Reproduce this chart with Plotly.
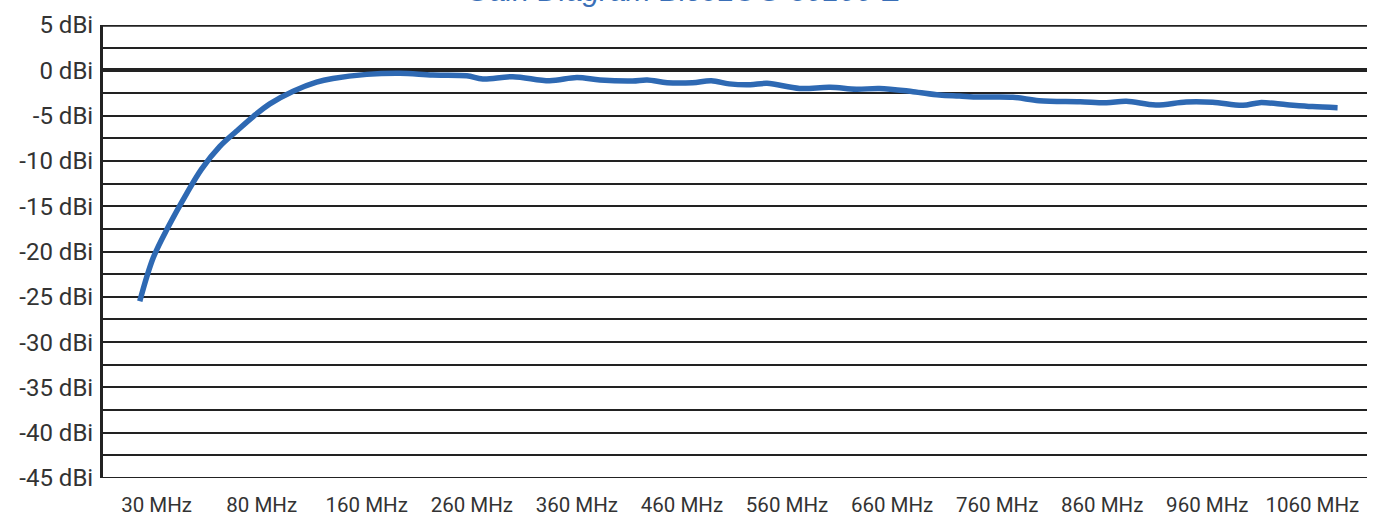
import numpy as np
import plotly.graph_objects as go

# Frequency axis labels (equally spaced on the chart)
tick_freqs = [30, 80, 160, 260, 360, 460, 560, 660, 760, 860, 960, 1060]
tick_text = [f"{f} MHz" for f in tick_freqs]

# Measured antenna gain
freq_mhz = [22, 28.4, 35.5, 44.3, 51.4, 60.1, 68.1, 76, 86.2, 104, 121.8, 134.2,
            160, 191.5, 222.9, 255.2, 270.5, 299, 334, 360, 382, 413, 427, 446,
            470, 488, 505, 525, 541, 572, 601, 626, 648, 680, 705, 724, 743, 775,
            800, 839, 864, 883, 911, 940, 965, 994, 1010, 1036, 1060, 1084]
gain_dbi = [-25.5, -20.7, -17.3, -13.6, -10.9, -8.4, -6.7, -5.1, -3.7, -2.3, -1.3, -0.9,
            -0.45, -0.33, -0.52, -0.6, -0.96, -0.7, -1.15, -0.8, -1.07, -1.18, -1.07, -1.37,
            -1.37, -1.15, -1.5, -1.6, -1.44, -2.0, -1.88, -2.1, -2.0, -2.36, -2.73, -2.84, -2.95, -2.98,
            -3.35, -3.46, -3.57, -3.42, -3.83, -3.5, -3.53, -3.87, -3.57, -3.8, -4.0, -4.13]

y_ticks = list(range(5, -50, -5))
y_text = [f"{v} dBi" for v in y_ticks]


def freq_to_slot(f):
    """Piecewise-linear position of a frequency between the equally spaced labels."""
    tf = np.asarray(tick_freqs, float)
    idx = np.arange(len(tf), dtype=float)
    f = np.asarray(f, float)
    pos = np.interp(f, tf, idx)
    lo = f < tf[0]
    pos[lo] = (f[lo] - tf[0]) / (tf[1] - tf[0])
    hi = f > tf[-1]
    pos[hi] = idx[-1] + (f[hi] - tf[-1]) / (tf[-1] - tf[-2])
    return pos


grid_col = "#222222"
text_col = "#333333"

fig = go.Figure()
fig.add_trace(go.Scatter(
    x=freq_to_slot(freq_mhz), y=gain_dbi, mode="lines",
    line=dict(color="#2e69b3", width=5.5, shape="spline", smoothing=1.0),
    hoverinfo="skip", showlegend=False,
))

fig.update_layout(
    width=1381, height=518,
    margin=dict(l=103, r=14, t=25, b=40),
    paper_bgcolor="white", plot_bgcolor="white",
    font=dict(family="Roboto", color=text_col),
    xaxis=dict(
        range=[-0.51, 11.52], tickmode="array",
        tickvals=list(range(len(tick_freqs))), ticktext=tick_text,
        showgrid=False, zeroline=False, showline=False, automargin=False,
        tickfont=dict(size=20.5, color=text_col), ticks="", ticklabelstandoff=12,
    ),
    yaxis=dict(
        range=[-45, 5], tickmode="array", tickvals=y_ticks, ticktext=y_text,
        showgrid=True, gridcolor=grid_col, gridwidth=2,
        minor=dict(dtick=2.5, showgrid=True, gridcolor=grid_col, gridwidth=2),
        zeroline=True, zerolinecolor=grid_col, zerolinewidth=3.5,
        showline=True, linecolor=grid_col, linewidth=3, automargin=False,
        tickfont=dict(size=24, color=text_col), ticks="", ticklabelstandoff=2,
    ),
    shapes=[
        dict(type="line", xref="paper", yref="y", x0=0, x1=1, y0=5, y1=5,
             line=dict(color=grid_col, width=3.5), layer="below"),
        dict(type="line", xref="paper", yref="y", x0=0, x1=1, y0=-45, y1=-45,
             line=dict(color=grid_col, width=2), layer="below"),
    ],
    annotations=[dict(
        text="<i>Gain Diagram BicoLOG 30100 E</i>", xref="paper", yref="paper",
        x=0.46, y=1.036, xanchor="center", yanchor="bottom", showarrow=False,
        font=dict(family="Liberation Sans", size=30, color="#3a6fb7"),
    )],
)

fig.write_html("out.html")
